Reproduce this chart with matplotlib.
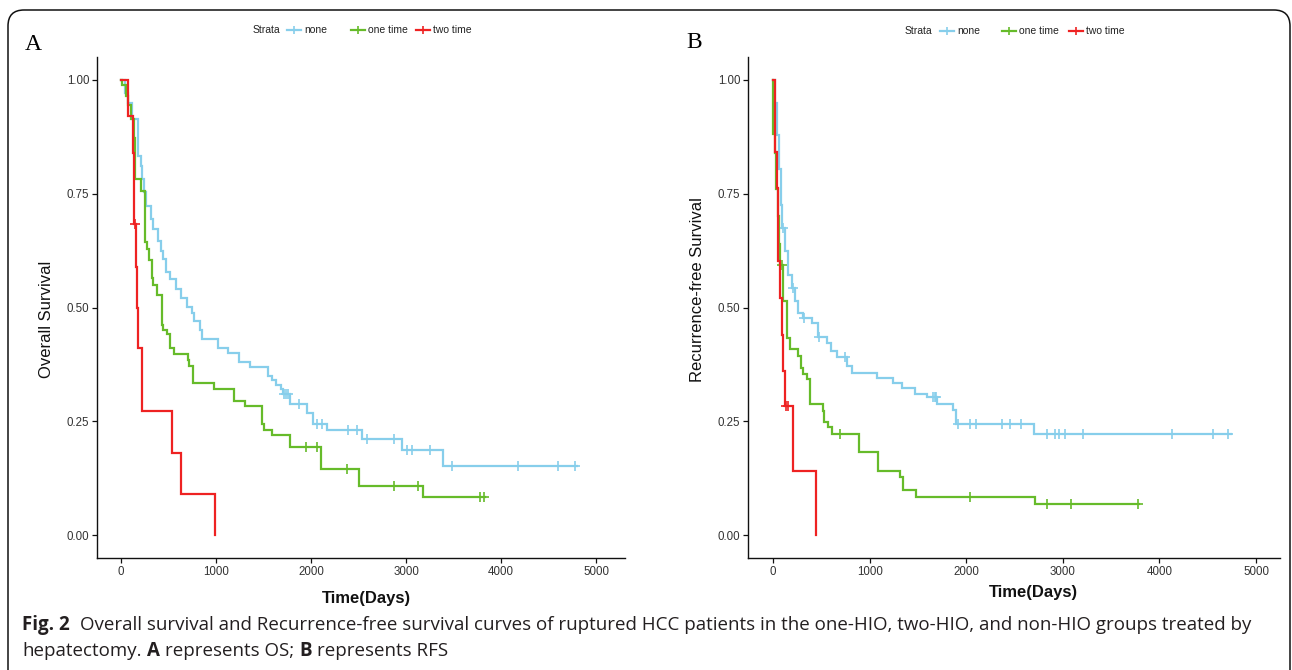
import numpy as np
import matplotlib.pyplot as plt
from matplotlib.lines import Line2D
from matplotlib.patches import FancyBboxPatch
from matplotlib.transforms import IdentityTransform

W, H = 1292, 670
SANS = ['Liberation Sans', 'DejaVu Sans']

# ---------------- data ----------------
# panel A: overall survival (days, survival)
os_none_t = [0, 40, 77, 115, 182, 207, 225, 246, 263, 312, 333, 393, 418, 446, 474, 516,
             579, 628, 691, 744, 772, 832, 849, 1018, 1130, 1242, 1358, 1551, 1586, 1628,
             1681, 1709, 1779, 1954, 2024, 2165, 2533, 2961, 3393]
os_none_s = [1.0, 0.971, 0.949, 0.913, 0.833, 0.811, 0.782, 0.753, 0.723, 0.694, 0.672, 0.647,
             0.625, 0.607, 0.578, 0.563, 0.541, 0.52, 0.501, 0.487, 0.47, 0.45, 0.431, 0.41,
             0.401, 0.381, 0.37, 0.349, 0.341, 0.33, 0.32, 0.309, 0.288, 0.268, 0.245, 0.23,
             0.212, 0.188, 0.151]
os_none_end = 4800
os_none_cens = [1715, 1735, 1760, 1874, 2060, 2112, 2385, 2480, 2586, 2877, 3007, 3067, 3253,
                3489, 4175, 4603, 4779]

os_one_t = [0, 14, 49, 75, 100, 140, 147, 207, 253, 270, 298, 323, 340, 375, 428, 446, 481,
            516, 561, 702, 712, 761, 979, 1193, 1305, 1481, 1505, 1593, 1779, 2102, 2509, 3183]
os_one_s = [1.0, 0.988, 0.964, 0.945, 0.913, 0.873, 0.782, 0.756, 0.643, 0.629, 0.604, 0.565,
            0.549, 0.527, 0.461, 0.45, 0.441, 0.41, 0.398, 0.385, 0.372, 0.334, 0.322, 0.295,
            0.283, 0.245, 0.231, 0.219, 0.194, 0.145, 0.108, 0.083]
os_one_end = 3832
os_one_cens = [1944, 2067, 2375, 2877, 3130, 3779, 3825]

os_two_t = [0, 70, 123, 137, 140, 158, 165, 176, 218, 533, 632, 993]
os_two_s = [1.0, 0.92, 0.84, 0.76, 0.683, 0.59, 0.50, 0.41, 0.272, 0.181, 0.091, 0.0]
os_two_end = 993
os_two_cens = [145]

# panel B: recurrence-free survival
rfs_none_t = [0, 21, 40, 66, 80, 97, 124, 158, 193, 228, 262, 314, 400, 469, 556, 600, 666,
              769, 815, 1073, 1239, 1332, 1470, 1591, 1694, 1867, 1894, 2705]
rfs_none_s = [1.0, 0.95, 0.878, 0.805, 0.725, 0.674, 0.623, 0.572, 0.543, 0.514, 0.488, 0.477,
              0.466, 0.435, 0.422, 0.404, 0.391, 0.371, 0.357, 0.346, 0.335, 0.324, 0.311,
              0.303, 0.289, 0.276, 0.245, 0.222]
rfs_none_end = 4740
rfs_none_cens = [107, 207, 324, 479, 745, 1660, 1675, 1687, 1918, 2039, 2098, 2367, 2453, 2564,
                 2833, 2919, 2965, 3023, 3212, 4127, 4552, 4713]

rfs_one_t = [0, 3, 20, 35, 50, 60, 75, 107, 148, 180, 255, 287, 314, 349, 383, 521, 531, 573,
             607, 890, 1090, 1315, 1349, 1480, 2712]
rfs_one_s = [1.0, 0.88, 0.84, 0.76, 0.70, 0.64, 0.594, 0.514, 0.433, 0.408, 0.393, 0.368, 0.353,
             0.342, 0.289, 0.273, 0.249, 0.238, 0.223, 0.182, 0.14, 0.127, 0.099, 0.085, 0.0685]
rfs_one_end = 3790
rfs_one_cens = [90, 694, 2039, 2833, 3082, 3775]

rfs_two_t = [0, 21, 38, 48, 72, 90, 107, 124, 210, 445]
rfs_two_s = [1.0, 0.842, 0.762, 0.601, 0.521, 0.44, 0.36, 0.284, 0.142, 0.0]
rfs_two_end = 445
rfs_two_cens = [135, 150]

strata = ['none', 'one time', 'two time']
colors = ['#87CEEB', '#66BB2A', '#EE2222']
y_ticks = [0, 0.25, 0.5, 0.75, 1.0]
y_tick_labels = ['0.00', '0.25', '0.50', '0.75', '1.00']
x_ticks = [0, 1000, 2000, 3000, 4000, 5000]


def fx(px):
    return px / W


def fy(py):
    return 1 - py / H


def km_curve(ax, t, s, end, cens, color):
    tt = list(t) + [end]
    ss = list(s) + [s[-1]]
    ax.step(tt, ss, where='post', color=color, lw=1.6, solid_joinstyle='miter')
    idx = np.searchsorted(t, cens, side='right') - 1
    ax.plot(cens, np.asarray(s)[idx], '+', color=color, ms=7, mew=1.2)


def style_axes(ax, xlim):
    ax.set_xlim(*xlim)
    ax.set_ylim(-0.05, 1.05)
    ax.set_xticks(x_ticks)
    ax.set_yticks(y_ticks)
    ax.set_yticklabels(y_tick_labels)
    for side in ['top', 'right']:
        ax.spines[side].set_visible(False)
    for side in ['left', 'bottom']:
        ax.spines[side].set_linewidth(1.0)
        ax.spines[side].set_color('#111111')
    ax.tick_params(length=3.5, width=0.9, color='#111111', labelcolor='#333333',
                   labelsize=8.3, pad=2)
    for lab in ax.get_xticklabels() + ax.get_yticklabels():
        lab.set_family(SANS)


def legend_row(fig, x_strata, y, keys):
    fig.text(fx(x_strata), fy(y), 'Strata', fontsize=7.5, family=SANS,
             va='center', ha='left', color='#222222')
    for (xk, label, color) in zip(keys, strata, colors):
        fig.add_artist(Line2D([fx(xk), fx(xk + 14)], [fy(y), fy(y)],
                              transform=fig.transFigure, color=color, lw=1.6))
        fig.add_artist(Line2D([fx(xk + 7)], [fy(y)], transform=fig.transFigure,
                              color=color, marker='+', ms=6, mew=1.2, lw=0))
        fig.text(fx(xk + 17), fy(y), label, fontsize=7.5, family=SANS,
                 va='center', ha='left', color='#222222')


fig = plt.figure(figsize=(W / 100, H / 100), dpi=100)

# outer frame with rounded top corners (open past the bottom edge)
frame = FancyBboxPatch((8, -40), 1282, H - 10 + 40,
                       boxstyle='round,pad=0,rounding_size=16',
                       transform=IdentityTransform(), fill=False,
                       edgecolor='#111111', lw=1.1)
fig.patches.append(frame)

# panel A
axA = fig.add_axes([fx(97), fy(558), fx(625) - fx(97), fy(57) - fy(558)])
km_curve(axA, os_none_t, os_none_s, os_none_end, os_none_cens, colors[0])
km_curve(axA, os_one_t, os_one_s, os_one_end, os_one_cens, colors[1])
km_curve(axA, os_two_t, os_two_s, os_two_end, os_two_cens, colors[2])
style_axes(axA, (-253, 5305))

# panel B
axB = fig.add_axes([fx(748), fy(558), fx(1280) - fx(748), fy(57) - fy(558)])
km_curve(axB, rfs_none_t, rfs_none_s, rfs_none_end, rfs_none_cens, colors[0])
km_curve(axB, rfs_one_t, rfs_one_s, rfs_one_end, rfs_one_cens, colors[1])
km_curve(axB, rfs_two_t, rfs_two_s, rfs_two_end, rfs_two_cens, colors[2])
style_axes(axB, (-259, 5248))

# axis titles
fig.text(fx(47), fy(319), 'Overall Survival', rotation=90, fontsize=12, family=SANS,
         ha='center', va='center', color='#111111')
fig.text(fx(697), fy(290), 'Recurrence-free Survival', rotation=90, fontsize=12, family=SANS,
         ha='center', va='center', color='#111111')
fig.text(fx(366), fy(598), 'Time(Days)', fontsize=12, fontweight='bold', family=SANS,
         ha='center', va='center', color='#111111')
fig.text(fx(1033), fy(593), 'Time(Days)', fontsize=12, fontweight='bold', family=SANS,
         ha='center', va='center', color='#111111')

# panel letters
fig.text(fx(33), fy(44), 'A', fontsize=17, family=['Liberation Serif', 'DejaVu Serif'],
         ha='center', va='center')
fig.text(fx(694), fy(42), 'B', fontsize=17, family=['Liberation Serif', 'DejaVu Serif'],
         ha='center', va='center')

# legends
legend_row(fig, 253, 30, [287, 351, 416])
legend_row(fig, 905, 31, [940, 1002, 1069])

# caption, fitted to the reference line width
CAP = ['Open Sans', 'DejaVu Sans']
line1 = [('Fig. 2', 'bold', 0.55),
         ('Overall survival and Recurrence-free survival curves of ruptured HCC patients in the '
          'one-HIO, two-HIO, and non-HIO groups treated by', 'normal', 0)]
line2 = [('hepatectomy.', 'normal', 0.28), ('A', 'bold', 0.28), ('represents OS;', 'normal', 0.28),
         ('B', 'bold', 0.28), ('represents RFS', 'normal', 0)]
renderer = fig.canvas.get_renderer()


def draw_runs(x0, y, runs, size):
    x = x0
    made = []
    for txt, weight, gap in runs:
        t = fig.text(fx(x), fy(y), txt, fontsize=size, fontweight=weight, family=CAP,
                     ha='left', va='center', color='#231F20')
        made.append(t)
        x += t.get_window_extent(renderer).width + gap * size * 100 / 72
    return x, made


end, tmp = draw_runs(22, 625, line1, 10)
for t in tmp:
    t.remove()
size = 10 * (1248 - 22) / (end - 22)
draw_runs(22, 625, line1, size)
draw_runs(22, 651, line2, size)

fig.savefig('out.png', dpi=100)
